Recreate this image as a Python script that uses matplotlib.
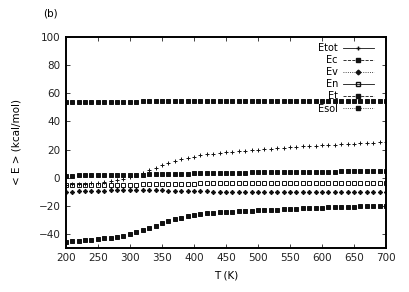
import matplotlib
matplotlib.use("Agg")
import matplotlib.pyplot as plt
import numpy as np

T = np.arange(200, 701, 10)

Etot = [-5.0, -4.8, -4.6, -4.3, -4.0, -3.6, -3.1, -2.5, -1.7, -0.7,
        0.5, 1.9, 3.5, 5.2, 7.0, 8.7, 10.3, 11.7, 13.0, 14.1,
        15.0, 15.8, 16.5, 17.1, 17.6, 18.1, 18.5, 18.9, 19.3, 19.7,
        20.0, 20.4, 20.7, 21.0, 21.3, 21.6, 21.9, 22.2, 22.4, 22.7,
        22.9, 23.2, 23.4, 23.6, 23.9, 24.1, 24.3, 24.6, 24.8, 25.0, 25.2]
Ec = [1.5, 1.5, 1.6, 1.6, 1.7, 1.7, 1.8, 1.8, 1.9, 1.9,
      2.0, 2.1, 2.2, 2.3, 2.4, 2.5, 2.6, 2.7, 2.8, 2.9,
      3.0, 3.1, 3.2, 3.3, 3.3, 3.4, 3.5, 3.5, 3.6, 3.7,
      3.7, 3.8, 3.8, 3.9, 3.9, 4.0, 4.0, 4.1, 4.1, 4.2,
      4.2, 4.3, 4.3, 4.4, 4.4, 4.5, 4.5, 4.6, 4.6, 4.7, 4.7]
Ev = [-10.0, -9.9, -9.8, -9.7, -9.5, -9.4, -9.2, -9.1, -9.0, -8.9,
      -8.8, -8.8, -8.8, -8.9, -9.0, -9.1, -9.3, -9.4, -9.5, -9.6,
      -9.7, -9.8, -9.8, -9.9, -9.9, -10.0, -10.0, -10.0, -10.0, -10.1,
      -10.1, -10.1, -10.1, -10.1, -10.1, -10.2, -10.2, -10.2, -10.2, -10.2,
      -10.2, -10.2, -10.2, -10.2, -10.2, -10.2, -10.2, -10.2, -10.2, -10.2, -10.2]
En = [-5.5, -5.5, -5.4, -5.4, -5.3, -5.3, -5.2, -5.2, -5.1, -5.1,
      -5.0, -4.9, -4.8, -4.7, -4.6, -4.5, -4.4, -4.3, -4.3, -4.2,
      -4.2, -4.1, -4.1, -4.1, -4.0, -4.0, -4.0, -4.0, -3.9, -3.9,
      -3.9, -3.9, -3.9, -3.9, -3.8, -3.8, -3.8, -3.8, -3.8, -3.8,
      -3.8, -3.8, -3.8, -3.8, -3.8, -3.8, -3.8, -3.8, -3.8, -3.8, -3.8]
Et = [-45.5, -45.2, -44.9, -44.6, -44.2, -43.8, -43.3, -42.7, -42.0, -41.2,
      -40.2, -39.0, -37.6, -36.0, -34.3, -32.6, -31.0, -29.6, -28.4, -27.4,
      -26.6, -26.0, -25.5, -25.1, -24.8, -24.5, -24.2, -24.0, -23.7, -23.5,
      -23.3, -23.1, -22.9, -22.7, -22.5, -22.3, -22.1, -21.9, -21.7, -21.5,
      -21.4, -21.2, -21.1, -21.0, -20.8, -20.7, -20.5, -20.4, -20.2, -20.1, -19.9]
Esol = [54.0, 54.0, 54.0, 54.0, 54.0, 54.0, 54.1, 54.1, 54.1, 54.1,
        54.1, 54.1, 54.2, 54.2, 54.2, 54.2, 54.2, 54.2, 54.2, 54.3,
        54.3, 54.3, 54.3, 54.3, 54.3, 54.3, 54.4, 54.4, 54.4, 54.4,
        54.4, 54.4, 54.4, 54.4, 54.5, 54.5, 54.5, 54.5, 54.5, 54.5,
        54.5, 54.5, 54.5, 54.6, 54.6, 54.6, 54.6, 54.6, 54.6, 54.6, 54.6]

series = [("Etot", Etot, "+", "-"), ("Ec", Ec, "s", "--"), ("Ev", Ev, "D", ":"),
          ("En", En, "s", "-"), ("Et", Et, "s", "--"), ("Esol", Esol, "s", ":")]

fig = plt.figure(figsize=(4.09, 2.92), dpi=100)
ax = fig.add_axes([0.161, 0.151, 0.783, 0.722])

for name, vals, mk, ls in series:
    fc = "none" if name == "En" else "#111111"
    ax.plot(T, vals, linestyle="none", marker=mk, markersize=2.2,
            markerfacecolor=fc, markeredgecolor="#111111", markeredgewidth=0.7,
            color="#111111")

# legend proxies with line samples
handles = []
for name, vals, mk, ls in series:
    fc = "none" if name == "En" else "#111111"
    h, = ax.plot([], [], linestyle=ls, linewidth=0.6, marker=mk, markersize=2.4,
                 markerfacecolor=fc, markeredgecolor="#111111", color="#111111")
    handles.append(h)
ax.legend(handles, [s[0] for s in series], loc="upper right", bbox_to_anchor=(0.98, 1.0),
          frameon=False, markerfirst=False, fontsize=7, handlelength=3.2,
          labelspacing=0.22, handletextpad=0.5, borderpad=0.1)

ax.set_xlim(200, 700)
ax.set_ylim(-50, 100)
ax.set_xticks(np.arange(200, 701, 50))
ax.set_yticks(np.arange(-40, 101, 20))
ax.tick_params(direction="in", length=3, width=0.6, labelsize=7.5,
               top=True, right=True, colors="#222222", pad=4)
for sp in ax.spines.values():
    sp.set_linewidth(1.4)
ax.set_xlabel("T (K)", fontsize=7.5, labelpad=5)
ax.set_ylabel("< E > (kcal/mol)", fontsize=7.5, labelpad=12)
fig.text(0.105, 0.945, "(b)", fontsize=7.5)

fig.savefig("out.png", dpi=100)
